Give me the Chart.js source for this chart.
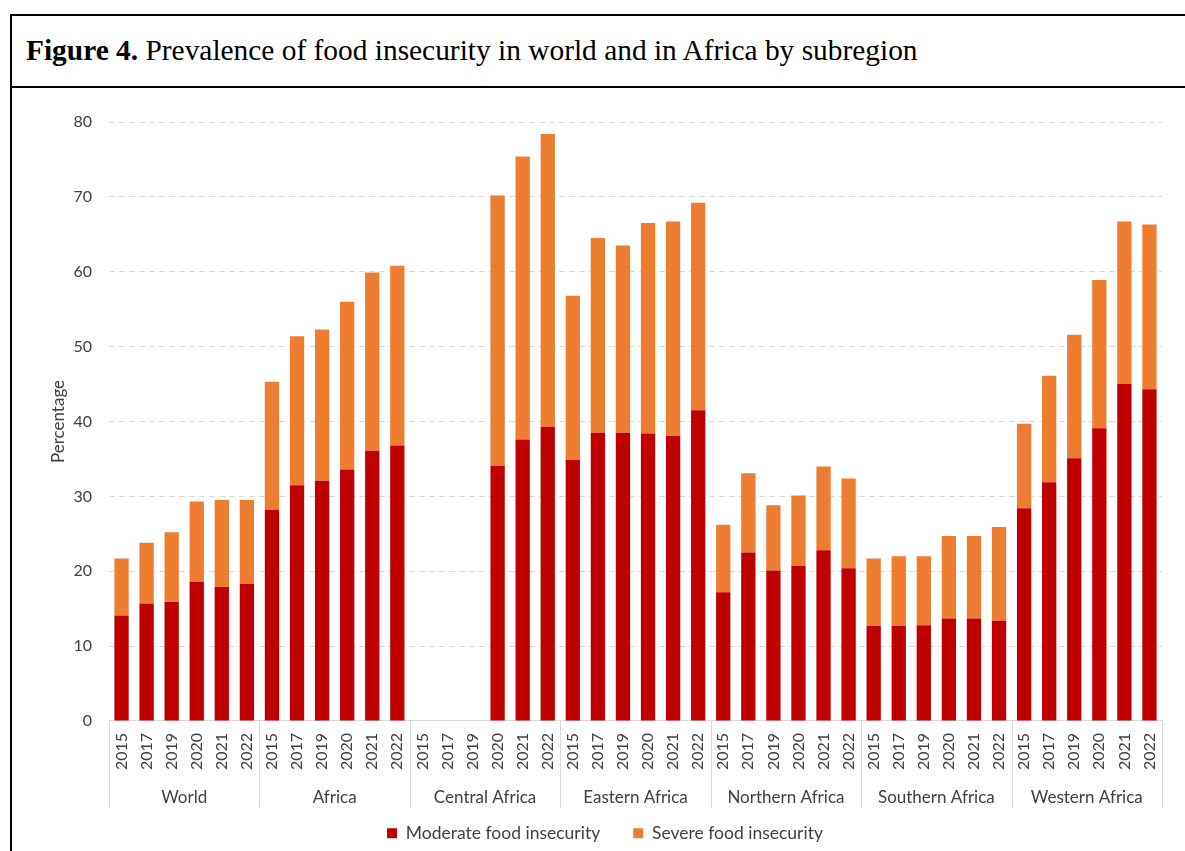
<!DOCTYPE html>
<html>
<head>
<meta charset="utf-8">
<script src="https://cdn.jsdelivr.net/npm/chart.js@4.4.1/dist/chart.umd.min.js"></script>
<style>
  html, body { margin: 0; padding: 0; background: #fff; width: 1185px; height: 851px; overflow: hidden; }
  .frame {
    position: absolute; left: 10px; top: 14px; width: 1200px; height: 900px;
    border-left: 2px solid #000; border-top: 2px solid #000;
  }
  .title {
    position: absolute; left: 0; top: 0; width: 100%; height: 72px;
    border-bottom: 2px solid #000;
    font-family: "Liberation Serif", "Times New Roman", serif; font-size: 29.4px;
    line-height: 69px; padding-left: 14px; box-sizing: border-box; color: #000;
  }
  .title b { font-weight: bold; }
  #wrap { position: absolute; left: 0; top: 0; width: 1185px; height: 881px; }
</style>
</head>
<body>
<div class="frame"><div class="title"><b>Figure 4.</b> Prevalence of food insecurity in world and in Africa by subregion</div></div>
<div id="wrap"><canvas id="chart" width="1185" height="881"></canvas></div>
<script>
// Regions and survey years
const regions = ['World', 'Africa', 'Central Africa', 'Eastern Africa', 'Northern Africa', 'Southern Africa', 'Western Africa'];
const years = ['2015', '2017', '2019', '2020', '2021', '2022'];

// Prevalence (%) of moderate food insecurity, by region and year
const moderateWorld    = [14.1, 15.7, 15.9, 18.6, 17.9, 18.3];
const moderateAfrica   = [28.2, 31.5, 32.1, 33.6, 36.1, 36.8];
const moderateCentral  = [null, null, null, 34.1, 37.6, 39.3];
const moderateEastern  = [34.9, 38.5, 38.5, 38.4, 38.1, 41.5];
const moderateNorthern = [17.2, 22.5, 20.1, 20.7, 22.8, 20.4];
const moderateSouthern = [12.7, 12.7, 12.8, 13.7, 13.7, 13.4];
const moderateWestern  = [28.4, 31.9, 35.1, 39.1, 45.0, 44.3];

// Prevalence (%) of severe food insecurity, stacked on top of moderate
const severeWorld    = [7.6, 8.1, 9.3, 10.7, 11.6, 11.2];
const severeAfrica   = [17.1, 19.9, 20.2, 22.4, 23.8, 24.0];
const severeCentral  = [null, null, null, 36.1, 37.8, 39.1];
const severeEastern  = [21.9, 26.0, 25.0, 28.1, 28.6, 27.7];
const severeNorthern = [9.0, 10.6, 8.7, 9.4, 11.2, 12.0];
const severeSouthern = [9.0, 9.3, 9.2, 11.0, 11.0, 12.5];
const severeWestern  = [11.3, 14.2, 16.5, 19.8, 21.7, 22.0];

const yTicks = [0, 10, 20, 30, 40, 50, 60, 70, 80];

const MODERATE_COLOR = '#C00000';
const SEVERE_COLOR = '#ED7D31';
const TEXT_COLOR = '#404040';
const FONT = 'Lato, "Noto Sans", sans-serif';

const labels = regions.flatMap(() => years);
const moderate = [].concat(moderateWorld, moderateAfrica, moderateCentral, moderateEastern,
                           moderateNorthern, moderateSouthern, moderateWestern);
const severe = [].concat(severeWorld, severeAfrica, severeCentral, severeEastern,
                         severeNorthern, severeSouthern, severeWestern);

// Vertical separators between region groups, running under the year and region labels
const groupSeparators = {
  id: 'groupSeparators',
  afterDraw(chart) {
    const x = chart.scales.x;
    const g = chart.scales.x2;
    const half = (x.getPixelForValue(1) - x.getPixelForValue(0)) / 2;
    const ctx = chart.ctx;
    ctx.save();
    ctx.strokeStyle = '#d9d9d9';
    ctx.lineWidth = 1;
    ctx.beginPath();
    for (let b = 0; b <= labels.length; b += years.length) {
      const px = Math.round(b < labels.length ? x.getPixelForValue(b) - half
                                              : x.getPixelForValue(labels.length - 1) + half) + 0.5;
      ctx.moveTo(px, x.top);
      ctx.lineTo(px, g.bottom - 5);
    }
    ctx.stroke();
    ctx.restore();
  }
};

// Pull the legend row closer to the region labels
const legendLift = {
  id: 'legendLift',
  afterLayout(chart) {
    const lg = chart.legend;
    if (!lg) return;
    const dy = -21;
    lg.top += dy;
    lg.bottom += dy;
  }
};

new Chart(document.getElementById('chart'), {
  type: 'bar',
  data: {
    labels: labels,
    datasets: [
      { label: 'Moderate food insecurity', data: moderate, backgroundColor: MODERATE_COLOR,
        xAxisID: 'x', barPercentage: 0.57, categoryPercentage: 1.0 },
      { label: 'Severe food insecurity', data: severe, backgroundColor: SEVERE_COLOR,
        xAxisID: 'x', barPercentage: 0.57, categoryPercentage: 1.0 }
    ]
  },
  options: {
    responsive: false,
    animation: false,
    events: [],
    layout: { padding: { left: 48, right: 23, top: 122, bottom: 8 } },
    plugins: {
      legend: {
        position: 'bottom',
        labels: {
          boxWidth: 10, boxHeight: 10, padding: 33,
          color: TEXT_COLOR, font: { family: FONT, size: 17.5 }
        }
      },
      tooltip: { enabled: false }
    },
    scales: {
      x: {
        stacked: true,
        offset: true,
        grid: { display: false, drawTicks: false },
        border: { display: true, color: '#d9d9d9', width: 1 },
        ticks: {
          color: TEXT_COLOR, font: { family: FONT, size: 16 },
          minRotation: 90, maxRotation: 90, autoSkip: false, padding: 12
        }
      },
      x2: {
        type: 'category',
        labels: regions,
        position: 'bottom',
        offset: true,
        grid: { display: false, drawTicks: false },
        border: { display: false },
        ticks: { color: TEXT_COLOR, font: { family: FONT, size: 17 }, padding: 5 }
      },
      y: {
        stacked: true,
        min: 0, max: 80,
        afterBuildTicks(axis) { axis.ticks = yTicks.map(v => ({ value: v })); },
        afterFit(axis) { axis.width = 61; },
        grid: { color: '#d9d9d9', lineWidth: 1, drawTicks: false },
        border: { display: false, dash: [6, 4] },
        ticks: { color: TEXT_COLOR, font: { family: FONT, size: 16 }, padding: 17 },
        title: { display: true, text: 'Percentage', color: TEXT_COLOR, font: { family: FONT, size: 17 }, padding: { top: 0, bottom: 3 } }
      }
    }
  },
  plugins: [groupSeparators, legendLift]
});
</script>
</body>
</html>
